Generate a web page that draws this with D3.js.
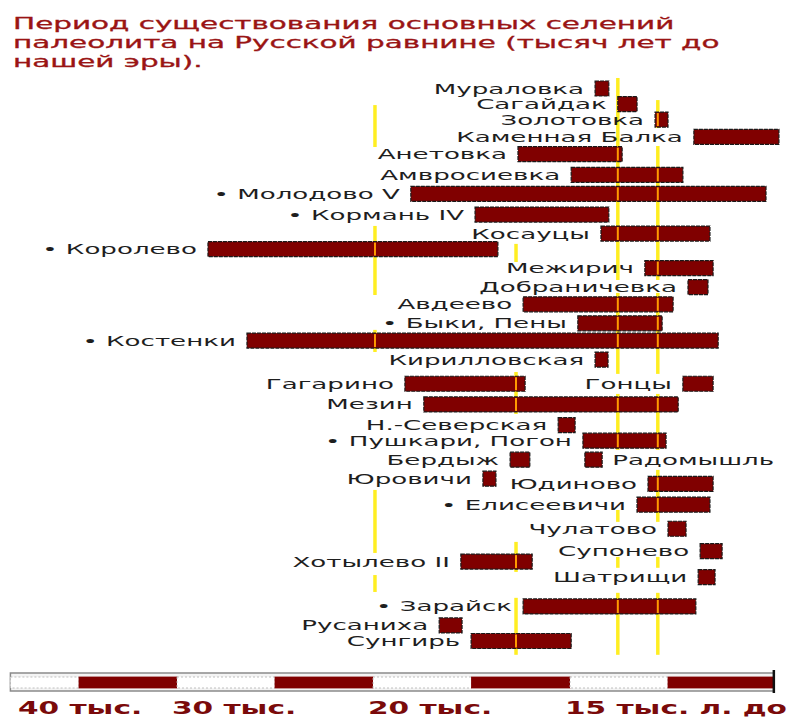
<!DOCTYPE html>
<html><head><meta charset="utf-8">
<script src="https://cdn.jsdelivr.net/npm/d3@7/dist/d3.min.js"></script>
<style>body{margin:0;background:#fff}svg{display:block}</style>
</head><body><svg id="c" width="795" height="717"></svg>
<script>
// ---- data ----
const titleLines = ["Период существования основных селений",
  "палеолита на Русской равнине (тысяч лет до", "нашей эры)."];

const names = ["Мураловка","Сагайдак","Золотовка","Каменная Балка","Анетовка","Амвросиевка",
  "Молодово V","Кормань IV","Косауцы","Королево","Межирич","Добраничевка","Авдеево",
  "Быки, Пены","Костенки","Кирилловская","Гагарино","Гонцы","Мезин","Н.-Северская",
  "Пушкари, Погон","Бердыж","Радомышль","Юровичи","Юдиново","Елисеевичи","Чулатово",
  "Супонево","Хотылево II","Шатрищи","Зарайск","Русаниха","Сунгирь"];
// start / end of each settlement, thousand years ago
const fromKya = [14.36,13.78,12.83,11.84,16.32,14.97,19.04,17.41,14.21,28.42,13.09,11.99,16.19,
  14.80,26.43,14.36,19.19,12.12,18.71,15.30,14.67,16.52,14.62,17.21,13.01,13.29,12.50,
  11.68,17.77,11.73,16.19,18.32,17.51];
const toKya = [14.01,13.29,12.50,9.67,13.67,12.12,10.00,14.01,11.43,16.83,11.35,11.48,12.37,
  12.65,11.22,14.03,16.14,11.35,12.24,14.87,12.55,16.02,14.18,16.88,11.35,11.43,12.04,
  11.12,15.96,11.30,11.79,17.74,14.97];
// row (lane) of each settlement in the picture
const lanes = [0,0.9,1.8,2.8,3.8,5.0,6.1,7.3,8.4,9.3,10.4,11.5,12.5,13.6,14.6,15.7,17.1,17.1,
  18.3,19.5,20.4,21.5,21.5,22.6,22.9,24.1,25.5,26.8,27.4,28.3,30.0,31.1,32.0];
const markedSites = ["Молодово V","Кормань IV","Королево","Быки, Пены","Костенки",
  "Пушкари, Погон","Елисеевичи","Зарайск"];
const labelRightSites = ["Радомышль"];

// vertical marker lines (thousand years ago) and their visible lane spans
const markerKya = [19.95, 16.37, 13.78, 12.76];
const markerSpans = [
  [[0.96,3.39],[7.96,11.96],[13.98,15.26],[23.25,26.9],[28.18,29.16]],
  [[9.0,10.05],[16.42,18.85],[26.26,28.0],[29.5,32.8]],
  [[-0.61,11.09],[11.84,16.53],[17.69,20.93],[24.41,25.10],[27.13,27.76],[29.21,32.8]],
  [[0.67,2.29],[3.33,11.09],[11.84,16.53],[17.69,20.93],[22.09,25.10],[27.13,27.76],[29.21,32.8]]
];

// time axis
const tickValues = [40, 30, 20, 15];
const tickLabels = ["40 тыс.", "30 тыс.", "20 тыс.", "15 тыс. л. до"];
const axisBreaks = [38.5, 35, 30, 25, 20, 17.5, 15, 12.5, 9.8];

// ---- drawing ----
const svg = d3.select("#c");
const x = d3.scaleLinear().domain([40, 30, 20, 15, 10]).range([-19, 177, 373, 570, 766]);
const y = d3.scaleLinear().domain([0, 32]).range([88.5, 641]);
const barH = 15;
const stretch = 1.8;
const FONT = "'DejaVu Sans', Verdana, sans-serif";

// title
svg.append("g").selectAll("text").data(titleLines).join("text")
  .attr("transform", (d, i) => `translate(13,${29 + i * 19}) scale(1.9,1)`)
  .attr("font-family", FONT).attr("font-size", 15.5).attr("fill", "#9a1414")
  .attr("stroke", "#9a1414").attr("stroke-width", 0.3)
  .text(d => d);

const sites = names.map((n, i) => ({name: n, from: fromKya[i], to: toKya[i], lane: lanes[i],
  marked: markedSites.includes(n), right: labelRightSites.includes(n)}));

// yellow marker lines
const segs = [];
markerKya.forEach((k, i) => markerSpans[i].forEach(s => segs.push({k, a: s[0], b: s[1]})));
svg.append("g").selectAll("line").data(segs).join("line")
  .attr("x1", d => x(d.k)).attr("x2", d => x(d.k))
  .attr("y1", d => y(d.a)).attr("y2", d => y(d.b))
  .attr("stroke", "#ffee22").attr("stroke-width", 3.5);

// bars
svg.append("g").selectAll("rect").data(sites).join("rect")
  .attr("x", d => x(d.from)).attr("width", d => x(d.to) - x(d.from))
  .attr("y", d => y(d.lane) - barH / 2).attr("height", barH)
  .attr("fill", "#800000").attr("stroke", "#1a1a1a").attr("stroke-width", 1.2)
  .attr("stroke-dasharray", "4,1");

// orange marks where a visible marker line crosses a bar
const overlays = [];
segs.forEach(s => sites.forEach(b => {
  const xm = x(s.k), x0 = x(b.from), x1 = x(b.to);
  const top = y(b.lane) - barH / 2, bot = y(b.lane) + barH / 2;
  if (xm > x0 + 1 && xm < x1 - 1 && y(s.a) < bot && y(s.b) > top)
    overlays.push({xm, top: Math.max(top, y(s.a)), bot: Math.min(bot, y(s.b))});
}));
svg.append("g").selectAll("line").data(overlays).join("line")
  .attr("x1", d => d.xm).attr("x2", d => d.xm)
  .attr("y1", d => d.top + 1).attr("y2", d => d.bot - 1)
  .attr("stroke", "#ff9a00").attr("stroke-width", 2);

// labels
svg.append("g").selectAll("text").data(sites).join("text")
  .attr("transform", d => {
    const tx = d.right ? x(d.to) + 10 : x(d.from) - 11;
    return `translate(${tx},${y(d.lane) + 5}) scale(${stretch},1)`;
  })
  .attr("text-anchor", d => d.right ? "start" : "end")
  .attr("font-family", FONT).attr("font-size", 14.5).attr("fill", "#1e1e1e")
  .text(d => (d.marked ? "• " : "") + d.name);

// time axis bar
const ax = svg.append("g");
ax.append("rect").attr("x", x(axisBreaks[0])).attr("y", 673)
  .attr("width", x(axisBreaks[axisBreaks.length - 1]) - x(axisBreaks[0])).attr("height", 18)
  .attr("fill", "#f4f4f4").attr("stroke", "#8a8a8a").attr("stroke-width", 1.5);
const pieces = d3.pairs(axisBreaks).map((p, i) => ({a: p[0], b: p[1], red: i % 2 === 1}));
ax.selectAll("rect.seg").data(pieces).join("rect").attr("class", "seg")
  .attr("x", d => x(d.a)).attr("width", d => x(d.b) - x(d.a))
  .attr("y", 677).attr("height", 11)
  .attr("fill", d => d.red ? "#800000" : "#ffffff")
  .attr("stroke", d => d.red ? "#800000" : "#b0b0b0").attr("stroke-width", 0.8)
  .attr("stroke-dasharray", d => d.red ? null : "2,2");
ax.append("line").attr("x1", x(axisBreaks[axisBreaks.length - 1])).attr("x2", x(axisBreaks[axisBreaks.length - 1]))
  .attr("y1", 670).attr("y2", 693).attr("stroke", "#111").attr("stroke-width", 2.5);
ax.selectAll("text").data(tickValues).join("text")
  .attr("transform", (d) => `translate(${Math.max(x(d) - 5, 18)},714) scale(1.6,1)`)
  .attr("font-family", FONT).attr("font-weight", "bold").attr("font-size", 18.5)
  .attr("fill", "#7a0a0a")
  .text((d, i) => tickLabels[i]);
</script></body></html>
